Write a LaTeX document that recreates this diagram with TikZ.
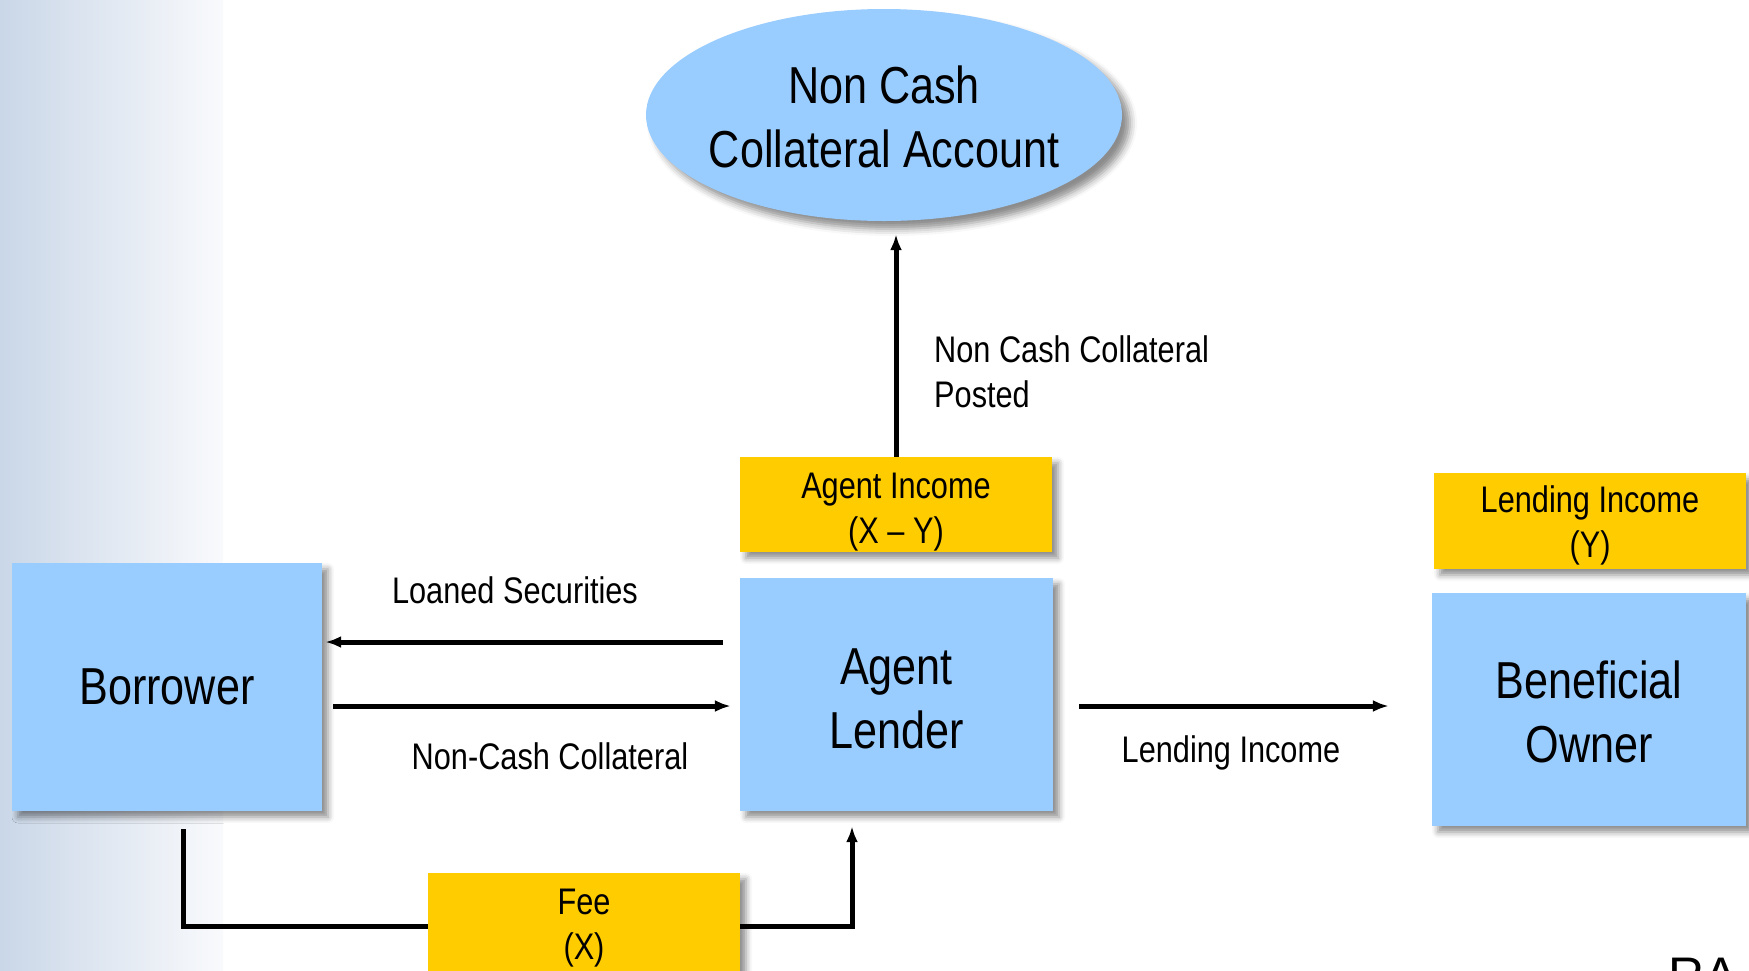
\documentclass[tikz,border=0pt]{standalone}
\usepackage{fontspec}
\setmainfont{Liberation Sans}[FakeStretch=0.83]
\newfontfamily\logofont{Liberation Sans}
\usetikzlibrary{shadows,shadows.blur,arrows.meta,calc,shapes.geometric}
\definecolor{boxblue}{RGB}{153,204,255}
\definecolor{boxyellow}{RGB}{255,204,0}
\definecolor{bgleft}{RGB}{202,215,232}
\definecolor{bgright}{RGB}{249,250,252}
\newcommand\topstrut[1]{\rule{0pt}{#1}}
\tikzset{
  shad/.style={blur shadow={shadow xshift=6pt,shadow yshift=-6pt,shadow blur radius=6pt,shadow opacity=45}},
  bluebase/.style={fill=boxblue,draw=none,inner sep=0pt,align=center,font=\fontsize{52}{64}\selectfont},
  bluebox/.style={shad,bluebase},
  yellowbox/.style={shad,fill=boxyellow,draw=none,inner sep=0pt,align=center,font=\fontsize{37}{45}\selectfont},
  lbl/.style={inner sep=0pt,align=left,font=\fontsize{37}{45}\selectfont},
  arr/.style={line width=5pt,-{Latex[length=16pt,width=12pt]}},
  flow/.style={line width=5pt}
}
\begin{document}
\begin{tikzpicture}[x=1pt,y=-1pt]
\useasboundingbox (0,0) rectangle (1749,970);
% left gradient band
\shade[left color=bgleft,right color=bgright,draw=none] (0,0) rectangle (223,970);

% nodes
\node[bluebase,ellipse,minimum width=476pt,minimum height=212pt,blur shadow={shadow xshift=8pt,shadow yshift=-8pt,shadow blur radius=7pt,shadow opacity=45}] (coll) at (884,115) {};
\node[bluebase] (colltext) at (884,117) {Non Cash\\Collateral Account};
\node[yellowbox,minimum width=312pt,minimum height=95pt] (agentinc) at (896,504.5) {\topstrut{40pt}Agent Income\\(X -- Y)};
\node[bluebox,minimum width=313pt,minimum height=233pt] (lender) at (896.5,694.5) {\topstrut{44pt}Agent\\Lender};
\node[bluebox,minimum width=310pt,minimum height=248pt] (borrower) at (167,687) {Borrower};
\node[yellowbox,minimum width=312pt,minimum height=96pt] (lendinc) at (1590,521) {\topstrut{36pt}Lending Income\\(Y)};
\node[bluebox,minimum width=314pt,minimum height=233pt] (owner) at (1589,709.5) {\topstrut{42.5pt}Beneficial\\Owner};

% connectors
\draw[arr,shorten >=13pt] (agentinc.north) -- (agentinc.north |- coll.south);
\draw[arr,shorten <=17pt,shorten >=3pt] ([yshift=52.5pt]lender.west) -- ([yshift=52.5pt]lender.west -| borrower.east);
\draw[arr,shorten <=11pt,shorten >=9pt] ([yshift=-11.5pt]lender.west -| borrower.east) -- ([yshift=-11.5pt]lender.west);
\draw[arr,shorten <=26pt,shorten >=43pt] ([yshift=-11.5pt]lender.east) -- ([yshift=-11.5pt]lender.east -| owner.west);
\coordinate (feeL) at ($(borrower.south)+(16,115)$);
\coordinate (feeR) at ($(lender.south)+(-44.5,115)$);
\draw[flow,-{Latex[length=16pt,width=12pt]},shorten >=15pt] ([xshift=16pt,yshift=-18pt]borrower.south) -- (feeL) -- (feeR) -- ([xshift=-44.5pt]lender.south);

\node[yellowbox,minimum width=312pt,minimum height=104pt] (fee) at (584,925) {\topstrut{31pt}Fee\\(X)};

% labels
\node[lbl] (lsec) at (515,590) {Loaned Securities};
\node[lbl] (ncc) at (550,756) {Non-Cash Collateral};
\node[lbl] (lin) at (1231,753) {Lending Income};
\node[lbl,anchor=west] (nccp) at (934,372) {Non Cash Collateral\\Posted};

% cut-off text at lower right
\node[inner sep=0pt,anchor=base west,font=\logofont\fontsize{50}{60}\selectfont] (logo) at (1668,992) {RA};
\end{tikzpicture}
\end{document}
